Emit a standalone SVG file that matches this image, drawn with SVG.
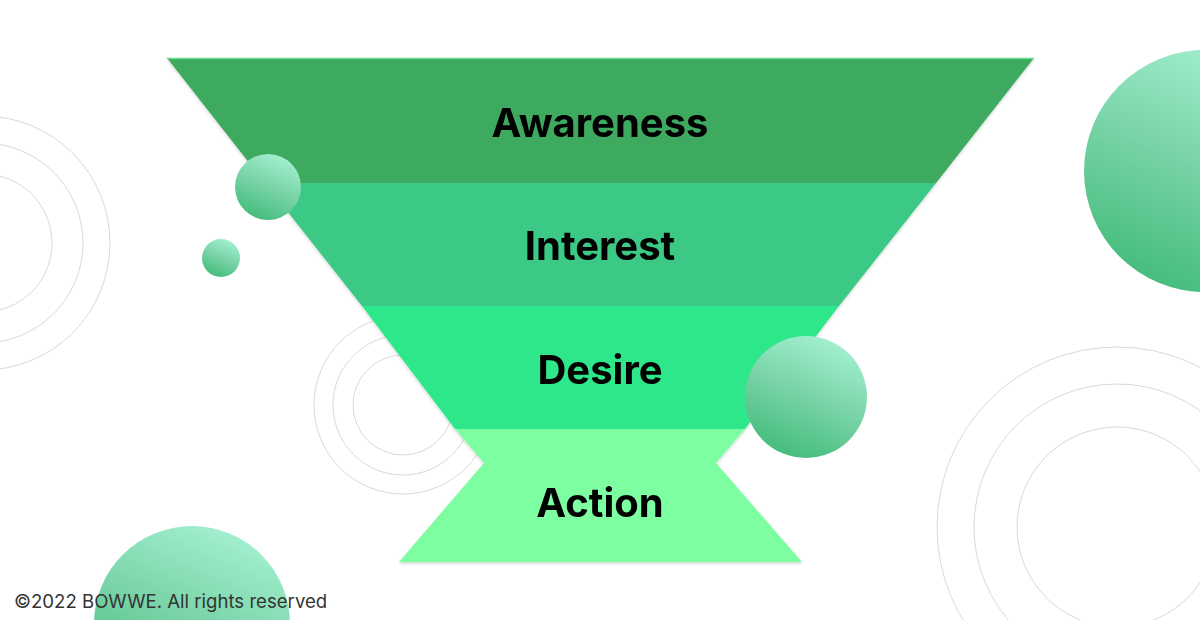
<svg xmlns="http://www.w3.org/2000/svg" width="1200" height="620" viewBox="0 0 1200 620">
  <defs>
    <linearGradient id="ball" x1="0.72" y1="0.02" x2="0.3" y2="0.98">
      <stop offset="0" stop-color="#a3f0d0"/>
      <stop offset="0.5" stop-color="#78d3a6"/>
      <stop offset="1" stop-color="#44bc7c"/>
    </linearGradient>
    <filter id="shadow" x="-5%" y="-5%" width="110%" height="115%">
      <feDropShadow dx="0" dy="1.5" stdDeviation="1.5" flood-color="#000" flood-opacity="0.18"/>
    </filter>
  </defs>
  <style>
    .ring { fill: none; stroke: #d9d9d9; stroke-width: 1; }
    .ball { fill: url(#ball); }
    .label { font-family: Inter, "Liberation Sans", sans-serif; font-weight: 700; font-size: 40px; fill: #000; text-anchor: middle; }
    .copy { font-family: Inter, "Liberation Sans", sans-serif; font-weight: 400; font-size: 18.6px; fill: #333; }
  </style>
  <rect width="1200" height="620" fill="#ffffff"/>

  <g id="rings">
    <circle class="ring" cx="-17" cy="243" r="127"/>
    <circle class="ring" cx="-17" cy="243" r="100"/>
    <circle class="ring" cx="-17" cy="243" r="69"/>
    <circle class="ring" cx="403" cy="405" r="89"/>
    <circle class="ring" cx="403" cy="405" r="70"/>
    <circle class="ring" cx="403" cy="405" r="50"/>
    <circle class="ring" cx="1117" cy="527" r="180"/>
    <circle class="ring" cx="1117" cy="527" r="143"/>
    <circle class="ring" cx="1117" cy="527" r="100"/>
  </g>

  <circle id="ball-bottom-left" class="ball" cx="192" cy="624" r="98"/>

  <g id="funnel" filter="url(#shadow)">
    <g id="awareness">
      <polygon points="167,58 1034,58 936,183 265,183" fill="#3daa60"/>
      <line x1="167" y1="58.5" x2="1034" y2="58.5" stroke="#63dd8e" stroke-width="1.5"/>
      <text class="label" x="600" y="137">Awareness</text>
    </g>
    <g id="interest">
      <polygon points="265,183 936,183 839,306 362,306" fill="#3ac985"/>
      <text class="label" x="600" y="260">Interest</text>
    </g>
    <g id="desire">
      <polygon points="362,306 839,306 745,429 455,429" fill="#2fe78b"/>
      <text class="label" x="600" y="384">Desire</text>
    </g>
    <g id="action">
      <polygon points="455,429 745,429 716,463 802,562 399,562 484,463" fill="#7dfea1"/>
      <text class="label" x="600" y="517">Action</text>
    </g>
  </g>

  <g id="balls">
    <circle class="ball" cx="268" cy="187" r="33"/>
    <circle class="ball" cx="221" cy="258" r="19"/>
    <circle class="ball" cx="806" cy="397" r="61"/>
    <circle class="ball" cx="1205" cy="171" r="121"/>
  </g>

  <text class="copy" x="14" y="608">©2022 BOWWE. All rights reserved</text>
</svg>
